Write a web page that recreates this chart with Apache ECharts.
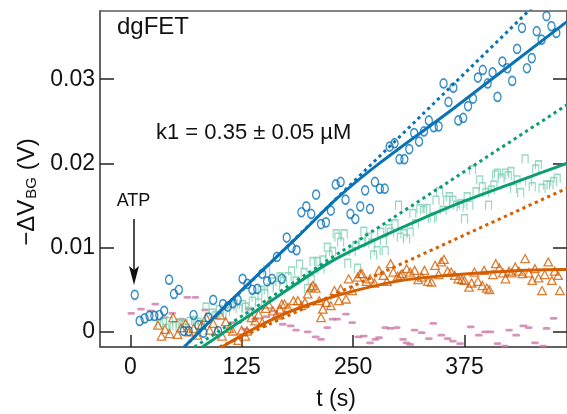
<!DOCTYPE html>
<html><head><meta charset="utf-8">
<script src="https://cdn.jsdelivr.net/npm/echarts@6/dist/echarts.min.js"></script>
<style>html,body{margin:0;padding:0;background:#fff}#c{width:567px;height:414px}</style>
</head><body><div id="c"></div>
<script>
// ---- tick values ----
const xTicks = [0, 125, 250, 375];
const yTicks = [0, 0.01, 0.02, 0.03];

// ---- measured data: [t (s), -dV_BG (V)] ----
const blueData = [
[5,0.0044],[10.5,0.0013],[16,0.0016],[21.5,0.0019],[27,0.0019],[32.5,0.0020],[38,0.0025],[43.5,0.0062],[49,0.0045],[54.5,0.0050],
[60,0.0001],[65.5,0.0001],[71,0.0020],[76.5,0.0008],[82,-0.0001],[87.5,0.0017],[93,0.0038],[98.5,0.0001],[104,0.0033],[109.5,0.0030],
[115,0.0034],[120.5,0.0038],[126,0.0063],[131.5,0.0057],[137,0.0050],[142.5,0.0051],[148,0.0069],[153.5,0.0060],[159,0.0063],[164.5,0.0089],
[170,0.0063],[175.5,0.0112],[181,0.0100],[186.5,0.0097],[192,0.0142],[197.5,0.0149],[203,0.0140],[208.5,0.0163],[214,0.0128],[219.5,0.0130],
[225,0.0144],[230.5,0.0175],[236,0.0178],[241.5,0.0157],[247,0.0140],[252.5,0.0134],[258,0.0149],[263.5,0.0168],[269,0.0146],[274.5,0.0178],
[280,0.0170],[285.5,0.0170],[291,0.0220],[296.5,0.0224],[302,0.0205],[307.5,0.0205],[313,0.0217],[318.5,0.0236],[324,0.0226],[329.5,0.0238],
[335,0.0251],[340.5,0.0243],[346,0.0244],[351.5,0.0295],[357,0.0273],[362.5,0.0290],[368,0.0251],[373.5,0.0254],[379,0.0268],[384.5,0.0277],
[390,0.0302],[395.5,0.0311],[401,0.0295],[406.5,0.0308],[412,0.0279],[417.5,0.0321],[423,0.0313],[428.5,0.0298],[434,0.0336],[439.5,0.0361],
[445,0.0313],[450.5,0.0325],[456,0.0357],[461.5,0.0347],[467,0.0375],[472.5,0.0363],[478,0.0355]
];
const greenData = [
[33,0.0009],[37,0.0011],[40,0.0004],[44,0.0012],[48,0.0006],[51,0.0007],[55,0.0010],[59,0.0008],[63,0.0004],[67,0.0012],
[72,0.0013],[76,0.0011],[80,0.0008],[85,0.0029],[88,0.0017],[92,0.0022],[96,0.0019],[100,0.0026],[104,0.0021],[108,0.0024],
[113,0.0030],[117,0.0033],[122,0.0027],[126,0.0032],[129,0.0029],[133,0.0024],[137,0.0036],[140,0.0041],[144,0.0034],[147,0.0049],
[151,0.0045],[153,0.0073],[157,0.0052],[160,0.0059],[164,0.0055],[168,0.0065],[172,0.0060],[177,0.0065],[181,0.0072],[186,0.0060],
[190,0.0080],[195,0.0070],[199,0.0051],[203,0.0062],[205,0.0083],[210,0.0083],[214,0.0074],[216,0.0085],[221,0.0100],[223,0.0091],
[227,0.0095],[231,0.0116],[233,0.0112],[236,0.0106],[240,0.0116],[244,0.0081],[249,0.0095],[253,0.0102],[255,0.0075],[260,0.0106],
[262,0.0119],[267,0.0112],[271,0.0105],[273,0.0091],[277,0.0096],[281,0.0118],[284,0.0108],[286,0.0096],[290,0.0122],[292,0.0118],
[297,0.0128],[301,0.0150],[303,0.0112],[307,0.0116],[310,0.0110],[314,0.0118],[317,0.0140],[320,0.0128],[325,0.0146],[329,0.0144],
[333,0.0146],[338,0.0134],[340,0.0136],[343,0.0156],[347,0.0166],[351,0.0144],[355,0.0156],[358,0.0160],[362,0.0156],[366,0.0150],
[370,0.0148],[371,0.0152],[375,0.0134],[378,0.0160],[381,0.0150],[384,0.0192],[388,0.0166],[392,0.0180],[395,0.0172],[399,0.0165],
[402,0.0150],[405,0.0168],[408,0.0174],[410,0.0186],[412,0.0188],[416,0.0182],[421,0.0188],[424,0.0185],[427,0.0190],[430,0.0170],
[434,0.0180],[438,0.0165],[443,0.0205],[447,0.0178],[451,0.0172],[455,0.0193],[458,0.0198],[462,0.0170],[467,0.0174],[471,0.0174],
[475,0.0178],[479,0.0182]
];
const orangeData = [
[31,0.0008],[35,-0.0005],[39,0.0003],[44,-0.0002],[48,0.0017],[53,-0.0003],[57,0.0005],[62,0.0010],[66,0.0000],[71,0.0004],
[75,-0.0004],[80,0.0008],[85,0.0017],[89,0.0002],[93,0.0010],[97,0.0001],[101,0.0020],[103,-0.0005],[107,0.0012],[111,0.0004],
[115,0.0001],[121,-0.0010],[125,0.0002],[129,-0.0005],[131,0.0001],[136,0.0017],[140,0.0013],[144,0.0021],[148,0.0011],[152,0.0028],
[155,0.0033],[160,0.0025],[164,0.0020],[168,0.0027],[170,0.0033],[173,0.0033],[177,0.0029],[183,0.0037],[188,0.0037],[192,0.0031],
[196,0.0035],[199,0.0045],[203,0.0053],[205,0.0055],[208,0.0052],[212,0.0037],[214,0.0017],[216,0.0027],[220,0.0035],[225,0.0031],
[229,0.0049],[234,0.0037],[236,0.0051],[242,0.0039],[245,0.0063],[249,0.0049],[255,0.0065],[258,0.0069],[260,0.0069],[265,0.0060],
[269,0.0063],[274,0.0058],[279,0.0073],[284,0.0067],[288,0.0060],[292,0.0081],[295,0.0071],[300,0.0066],[303,0.0067],[305,0.0069],
[310,0.0075],[314,0.0071],[319,0.0073],[323,0.0062],[327,0.0065],[330,0.0073],[334,0.0060],[338,0.0059],[342,0.0079],[346,0.0068],
[349,0.0083],[352,0.0086],[356,0.0072],[360,0.0071],[364,0.0067],[368,0.0063],[372,0.0062],[375,0.0061],[380,0.0053],[383,0.0058],
[386,0.0071],[390,0.0060],[395,0.0055],[397,0.0073],[400,0.0052],[403,0.0050],[407,0.0068],[410,0.0081],[414,0.0076],[418,0.0070],
[421,0.0063],[425,0.0072],[428,0.0070],[432,0.0077],[436,0.0072],[440,0.0069],[443,0.0087],[447,0.0070],[451,0.0061],[454,0.0075],
[458,0.0064],[462,0.0049],[465,0.0068],[469,0.0083],[473,0.0061],[476,0.0072],[480,0.0067],[482,0.0049]
];
const pinkData = [
[1,0.0022],[12,0.0027],[23,0.0025],[28,0.0033],[38,0.0017],[47,0.0022],[57,0.0015],[64,0.0041],[73,0.0041],[84,0.0026],
[94,0.0017],[105,0.0029],[114,0.0011],[121,0.0011],[129,0.0003],[133,0.0027],[140,0.0015],[146,0.0027],[153,0.0018],[162,0.0025],
[171,0.0009],[180,0.0007],[186,0.0002],[199,0.0000],[208,-0.0006],[214,-0.0009],[221,0.0005],[227,0.0015],[232,0.0015],[242,0.0021],
[249,0.0011],[256,-0.0006],[262,-0.0005],[269,-0.0013],[275,-0.0009],[279,-0.0007],[286,0.0005],[292,0.0004],[299,0.0005],[306,-0.0009],
[310,-0.0013],[314,-0.0015],[319,0.0002],[327,-0.0001],[335,-0.0008],[340,0.0010],[349,-0.0004],[356,-0.0008],[362,-0.0011],[370,-0.0014],
[382,0.0006],[391,-0.0004],[398,0.0000],[404,0.0000],[412,-0.0014],[420,-0.0017],[425,0.0002],[433,-0.0004],[441,0.0007],[447,0.0005],
[454,-0.0013],[463,-0.0017],[467,0.0004],[475,0.0016]
];

// ---- fitted curves ----
const blueFit = [[60.4,-0.0018],[121.5,0.0046],[188,0.0113],[232.5,0.0159],[276.8,0.0198],[362.3,0.0265],[484.5,0.0364],[495,0.0372]];
const blueInit = [[60.4,-0.0018],[470,0.0405]];
const greenFit = [[80.7,-0.0018],[150,0.0031],[221.4,0.0081],[265.8,0.0105],[320,0.0131],[376.7,0.0156],[430,0.0177],[484.5,0.0198],[495,0.0202]];
const greenInit = [[72,-0.0018],[495,0.0273]];
const orangeFit = [[102.9,-0.0018],[132.2,0.0000],[170,0.0020],[210.3,0.0036],[260,0.0051],[310.3,0.0062],[391.5,0.0070],[484.1,0.0074],[495,0.0074]];
const orangeInit = [[100,-0.0018],[495,0.0173]];

const C_BLUE = '#0a72b5', C_GREEN = '#0b9e72', C_ORANGE = '#d55e00', C_PINK = '#cc79a7', C_LGREEN = '#7fcfb3';
const FONT = 'Liberation Sans, Arial, Helvetica, sans-serif';

const chart = echarts.init(document.getElementById('c'), null, {renderer: 'canvas'});
function fit(data, color, dashed) {
  return {type: 'line', data: data, symbol: 'none', smooth: dashed ? false : 0.35, silent: true,
    lineStyle: {color: color, width: 3, type: dashed ? [3.2, 3.6] : 'solid', cap: 'butt'}, z: 5};
}
const option = {
  animation: false,
  grid: {left: 100, top: 11, right: -5, bottom: 67, show: true, borderColor: '#5a5a5a', borderWidth: 1.5, backgroundColor: 'transparent'},
  xAxis: [{
    type: 'value', min: -34, max: 490,
    axisLine: {show: true, onZero: false, lineStyle: {color: '#5a5a5a', width: 1.5}},
    axisTick: {show: true, inside: true, length: 12, customValues: xTicks, lineStyle: {color: '#222', width: 1.5}},
    axisLabel: {show: true, customValues: xTicks, margin: 9, fontSize: 23, color: '#111', fontFamily: FONT},
    splitLine: {show: false}
  }],
  yAxis: [{
    type: 'value', min: -0.0018, max: 0.0381,
    axisLine: {show: true, onZero: false, lineStyle: {color: '#5a5a5a', width: 1.5}},
    axisTick: {show: true, inside: true, length: 14, customValues: yTicks, lineStyle: {color: '#222', width: 1.5}},
    axisLabel: {show: true, customValues: yTicks, margin: 5, fontSize: 23, color: '#111', fontFamily: FONT,
      formatter: v => (Math.abs(v) < 1e-9 ? '0' : v.toFixed(2))},
    splitLine: {show: false}
  }, {
    type: 'value', position: 'right', min: -0.0018, max: 0.0381,
    axisLine: {show: true, onZero: false, lineStyle: {color: '#5a5a5a', width: 1.5}},
    axisTick: {show: true, inside: true, length: 14, customValues: yTicks, lineStyle: {color: '#222', width: 1.5}},
    axisLabel: {show: false}, splitLine: {show: false}
  }],
  series: [
    {type: 'scatter', data: pinkData, symbol: 'roundRect', symbolSize: [7.5, 2.8], itemStyle: {color: C_PINK}, z: 2},
    {type: 'scatter', data: greenData, symbol: 'path://M0,10L0,0L10,0L10,10', symbolSize: [6, 8.5],
      itemStyle: {color: 'transparent', borderColor: C_LGREEN, borderWidth: 1.4}, z: 2},
    {type: 'scatter', data: orangeData, symbol: 'triangle', symbolSize: [8.5, 8],
      itemStyle: {color: 'transparent', borderColor: C_ORANGE, borderWidth: 1.3}, z: 3},
    {type: 'scatter', data: blueData, symbol: 'circle', symbolSize: [7, 9],
      itemStyle: {color: 'transparent', borderColor: C_BLUE, borderWidth: 1.5}, z: 3},
    fit(blueInit, C_BLUE, true), fit(greenInit, C_GREEN, true), fit(orangeInit, C_ORANGE, true),
    fit(blueFit, C_BLUE, false), fit(greenFit, C_GREEN, false), fit(orangeFit, C_ORANGE, false)
  ],
  graphic: [
    {type: 'text', left: 117, top: 15, style: {text: 'dgFET', fontSize: 24, fontFamily: FONT, fill: '#111'}},
    {type: 'text', x: 156, y: 133, style: {text: 'k1 = 0.35 \u00b1 0.05 \u00b5M', fontSize: 22, fontFamily: FONT, fill: '#111', verticalAlign: 'middle'}},
    {type: 'text', x: 133.5, y: 201, style: {text: 'ATP', fontSize: 18, fontFamily: FONT, fill: '#111', align: 'center', verticalAlign: 'middle'}},
    {type: 'line', shape: {x1: 134, y1: 219, x2: 134, y2: 272}, style: {stroke: '#111', lineWidth: 1.5}},
    {type: 'polygon', shape: {points: [[129, 266], [134, 285], [139, 266], [134, 270]]}, style: {fill: '#111'}},
    {type: 'text', x: 336, y: 400, style: {text: 't (s)', fontSize: 23, fontFamily: FONT, fill: '#111', align: 'center', verticalAlign: 'middle'}},
    {type: 'text', x: 27, y: 192, rotation: Math.PI / 2,
      style: {text: '{a|\u2212\u0394V}{b|BG}{a| (V)}', align: 'center', verticalAlign: 'middle', fill: '#111',
        rich: {a: {fontSize: 24, fontFamily: FONT, fill: '#111'}, b: {fontSize: 15, fontFamily: FONT, fill: '#111', verticalAlign: 'bottom', padding: [0, 0, 0, 1]}}}}
  ]
};
chart.setOption(option);
</script></body></html>
